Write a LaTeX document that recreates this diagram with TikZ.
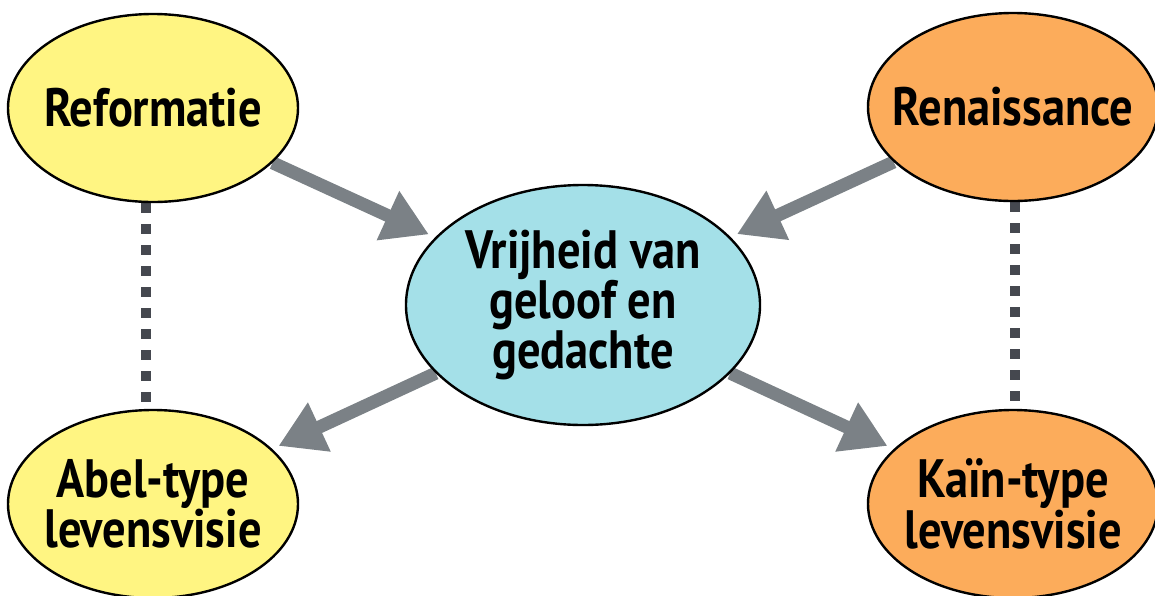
\documentclass[tikz,border=0pt]{standalone}
\usepackage{fontspec}
\setmainfont{PT Sans}[FakeStretch=0.86]
\usetikzlibrary{arrows.meta, shapes.geometric, backgrounds}
\definecolor{cyellow}{HTML}{FFF582}
\definecolor{corange}{HTML}{FCAC5B}
\definecolor{cblue}{HTML}{A4E0E8}
\definecolor{cgrey}{HTML}{7B8186}
\definecolor{cdark}{HTML}{45484F}
\tikzset{
  blob/.style={ellipse, draw=black, line width=2.4pt, fill=#1, align=center, inner xsep=-20pt, inner ysep=0pt,
    minimum width=290pt, minimum height=188pt, font=\fontsize{54}{47}\selectfont\bfseries},
  blob/.default=cblue,
  arrow/.style={-{Triangle[length=45pt, width=51pt]}, draw=cgrey, line width=13pt, shorten >=7pt},
  link/.style={draw=cdark, line width=10pt, dash pattern=on 10pt off 11pt},
}

\begin{document}
\begin{tikzpicture}[x=1pt, y=-1pt]
  \useasboundingbox (0,0) rectangle (1155,595);
  % the five ideas
  \node[blob=cyellow] (ref) at (153,108) {Reformatie};
  \node[blob=corange] (ren) at (1013,107) {Renaissance};
  \node[blob, minimum width=354pt, minimum height=240pt] (vr) at (583,305) {Vrijheid van\\geloof en\\gedachte};
  \node[blob=cyellow] (abel) at (153,504) {Abel-type\\levensvisie};
  \node[blob=corange] (kain) at (1013,504) {Kaïn-type\\levensvisie};
  % connectors behind the ellipses
  \begin{scope}[on background layer]
    \draw[arrow] (ref) -- (vr);
    \draw[arrow] (ren) -- (vr);
    \draw[arrow] (vr) -- (abel);
    \draw[arrow] (vr) -- (kain);
    \draw[link] ([xshift=-7pt]ref.south) -- ([xshift=-7pt]abel.north);
    \draw[link] ([xshift=2pt]ren.south) -- ([xshift=2pt]kain.north);
  \end{scope}
\end{tikzpicture}
\end{document}
